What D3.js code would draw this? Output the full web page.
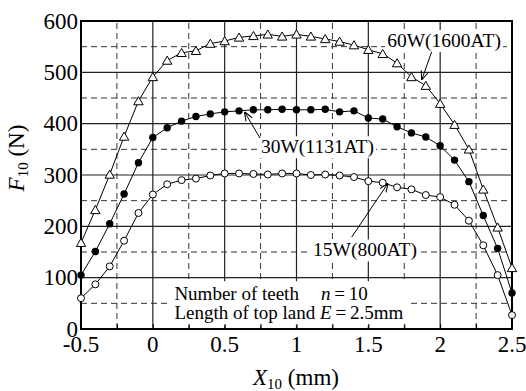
<!DOCTYPE html>
<html>
<head>
<meta charset="utf-8">
<script src="https://cdn.jsdelivr.net/npm/d3@7"></script>
<style>
  body { margin: 0; background: #fff; }
  svg { font-family: "Liberation Serif", "DejaVu Serif", serif; }
</style>
</head>
<body>
<svg id="chart"></svg>
<script>
// x positions of the measured points (mm)
const xValues = [-0.5, -0.4, -0.3, -0.2, -0.1, 0, 0.1, 0.2, 0.3, 0.4, 0.5, 0.6, 0.7, 0.8, 0.9, 1.0,
  1.1, 1.2, 1.3, 1.4, 1.5, 1.6, 1.7, 1.8, 1.9, 2.0, 2.1, 2.2, 2.3, 2.4, 2.5];

// F10 (N) for each coil
const f60W = [168, 232, 301, 375, 444, 491, 523, 538, 542, 556, 561, 568, 571, 574, 570, 574,
  570, 565, 560, 553, 544, 536, 518, 491, 474, 439, 398, 350, 272, 198, 119];
const f30W = [105, 151, 205, 263, 324, 373, 392, 405, 414, 419, 423, 425, 427, 427, 428, 427,
  427, 428, 423, 425, 411, 409, 394, 382, 374, 357, 329, 287, 221, 157, 70];
const f15W = [60, 87, 122, 172, 226, 262, 282, 290, 293, 299, 303, 303, 302, 301, 303, 303,
  300, 301, 299, 296, 288, 285, 276, 272, 261, 257, 242, 211, 163, 105, 27];

const xTicks = [-0.5, 0, 0.5, 1, 1.5, 2, 2.5];
const xTickLabels = ["-0.5", "0", "0.5", "1", "1.5", "2", "2.5"];
const yTicks = [0, 100, 200, 300, 400, 500, 600];

const seriesNames = ["60W(1600AT)", "30W(1131AT)", "15W(800AT)"];

const width = 526, height = 391;
const margin = {top: 21, right: 14, bottom: 62, left: 81};

const svg = d3.select("#chart")
    .attr("width", width)
    .attr("height", height);

const xScale = d3.scaleLinear()
    .domain([-0.5, 2.5])
    .range([margin.left, width - margin.right]);

const yScale = d3.scaleLinear()
    .domain([0, 600])
    .range([height - margin.bottom, margin.top]);

const grid = svg.append("g");

// dashed grid every 0.25 / 50, solid grid every 0.5 / 100
d3.range(-0.25, 2.5, 0.5).forEach(v => {
  grid.append("line")
      .attr("x1", xScale(v)).attr("x2", xScale(v))
      .attr("y1", yScale(0)).attr("y2", yScale(600))
      .attr("stroke", "#333").attr("stroke-width", 1)
      .attr("stroke-dasharray", "6,4");
});
d3.range(50, 600, 100).forEach(v => {
  grid.append("line")
      .attr("x1", xScale(-0.5)).attr("x2", xScale(2.5))
      .attr("y1", yScale(v)).attr("y2", yScale(v))
      .attr("stroke", "#333").attr("stroke-width", 1)
      .attr("stroke-dasharray", "6,4");
});
xTicks.slice(1, -1).forEach(v => {
  grid.append("line")
      .attr("x1", xScale(v)).attr("x2", xScale(v))
      .attr("y1", yScale(0)).attr("y2", yScale(600))
      .attr("stroke", "#222").attr("stroke-width", 1.2);
});
yTicks.slice(1, -1).forEach(v => {
  grid.append("line")
      .attr("x1", xScale(-0.5)).attr("x2", xScale(2.5))
      .attr("y1", yScale(v)).attr("y2", yScale(v))
      .attr("stroke", "#222").attr("stroke-width", 1.2);
});

// white box behind the condition note
svg.append("rect")
    .attr("x", xScale(0.12))
    .attr("y", yScale(93))
    .attr("width", xScale(1.79) - xScale(0.12))
    .attr("height", yScale(7) - yScale(93))
    .attr("fill", "#fff");

// minor ticks along the bottom
svg.append("g")
    .attr("transform", `translate(0,${yScale(0)})`)
    .call(d3.axisBottom(xScale).tickValues(d3.range(-0.5, 2.51, 0.25)).tickSize(-5).tickFormat(""))
    .call(g => g.select(".domain").remove())
    .selectAll("line").attr("stroke", "#000");

// labels with white background
function boxedLabel(text, x, v) {
  const g = svg.append("g");
  const t = g.append("text")
      .attr("x", xScale(x)).attr("y", yScale(v))
      .attr("text-anchor", "middle")
      .attr("dominant-baseline", "central")
      .attr("font-size", 19.5)
      .text(text);
  const b = t.node().getBBox();
  g.insert("rect", "text")
      .attr("x", b.x - 2).attr("y", b.y)
      .attr("width", b.width + 4).attr("height", b.height)
      .attr("fill", "#fff");
}
boxedLabel(seriesNames[0], 2.027, 562);
boxedLabel(seriesNames[1], 1.146, 355);
boxedLabel(seriesNames[2], 1.477, 154);

// arrows from labels to curves
svg.append("defs").append("marker")
    .attr("id", "arr")
    .attr("viewBox", "0 0 10 10")
    .attr("refX", 10).attr("refY", 5)
    .attr("markerWidth", 9).attr("markerHeight", 9)
    .attr("markerUnits", "userSpaceOnUse")
    .attr("orient", "auto")
  .append("path")
    .attr("d", "M0,1 L10,5 L0,9")
    .attr("fill", "none").attr("stroke", "#000").attr("stroke-width", 1.2);

const arrows = [
  {from: [1.941, 540], to: [1.871, 485]},
  {from: [0.746, 372], to: [0.638, 423]},
  {from: [1.384, 179], to: [1.637, 284]}
];
arrows.forEach(a => {
  svg.append("line")
      .attr("x1", xScale(a.from[0])).attr("y1", yScale(a.from[1]))
      .attr("x2", xScale(a.to[0])).attr("y2", yScale(a.to[1]))
      .attr("stroke", "#000").attr("stroke-width", 1)
      .attr("marker-end", "url(#arr)");
});

// condition note
const note1 = svg.append("text")
    .attr("y", yScale(70.5))
    .attr("dominant-baseline", "central")
    .attr("font-size", 19);
note1.append("tspan").attr("x", xScale(0.15)).text("Number of teeth");
note1.append("tspan").attr("x", xScale(1.17)).attr("font-style", "italic").text("n");
note1.append("tspan").text("\u2009=\u200910");

const note2 = svg.append("text")
    .attr("x", xScale(0.15))
    .attr("y", yScale(33))
    .attr("dominant-baseline", "central")
    .attr("font-size", 19);
note2.append("tspan").text("Length of top land ");
note2.append("tspan").attr("font-style", "italic").text("E");
note2.append("tspan").text("\u2009=\u20092.5mm");

// frame
svg.append("rect")
    .attr("x", xScale(-0.5)).attr("y", yScale(600))
    .attr("width", xScale(2.5) - xScale(-0.5))
    .attr("height", yScale(0) - yScale(600))
    .attr("fill", "none").attr("stroke", "#000").attr("stroke-width", 2);

// series lines and markers
const line = d3.line()
    .x((d, i) => xScale(xValues[i]))
    .y(d => yScale(d));

[f60W, f30W, f15W].forEach(s => {
  svg.append("path")
      .datum(s)
      .attr("d", line)
      .attr("fill", "none")
      .attr("stroke", "#000")
      .attr("stroke-width", 1);
});

const tri = d3.symbol().type(d3.symbolTriangle).size(38);
svg.append("g").selectAll("path")
    .data(f60W)
    .join("path")
    .attr("transform", (d, i) => `translate(${xScale(xValues[i])},${yScale(d) + 1})`)
    .attr("d", tri)
    .attr("fill", "#fff").attr("stroke", "#000").attr("stroke-width", 1);

svg.append("g").selectAll("circle")
    .data(f30W)
    .join("circle")
    .attr("cx", (d, i) => xScale(xValues[i]))
    .attr("cy", d => yScale(d))
    .attr("r", 3.7)
    .attr("fill", "#000");

svg.append("g").selectAll("circle")
    .data(f15W)
    .join("circle")
    .attr("cx", (d, i) => xScale(xValues[i]))
    .attr("cy", d => yScale(d))
    .attr("r", 3.5)
    .attr("fill", "#fff").attr("stroke", "#000").attr("stroke-width", 1);

// tick labels
svg.append("g").selectAll("text")
    .data(yTicks)
    .join("text")
    .attr("x", xScale(-0.5) - 3)
    .attr("y", d => yScale(d))
    .attr("text-anchor", "end")
    .attr("dominant-baseline", "central")
    .attr("font-size", 23)
    .text(d => d);

svg.append("g").selectAll("text")
    .data(xTicks)
    .join("text")
    .attr("x", d => xScale(d))
    .attr("y", yScale(0) + 15)
    .attr("text-anchor", "middle")
    .attr("dominant-baseline", "central")
    .attr("font-size", 23)
    .text((d, i) => xTickLabels[i]);

// axis titles
const xt = svg.append("text")
    .attr("x", 296).attr("y", 385)
    .attr("text-anchor", "middle")
    .attr("font-size", 23);
xt.append("tspan").attr("font-style", "italic").text("X");
xt.append("tspan").attr("font-size", 15).attr("dy", 4).text("10");
xt.append("tspan").attr("dy", -4).text(" (mm)");

const yt = svg.append("text")
    .attr("transform", "translate(24,158) rotate(-90)")
    .attr("text-anchor", "middle")
    .attr("font-size", 23);
yt.append("tspan").attr("font-style", "italic").text("F");
yt.append("tspan").attr("font-size", 15).attr("dy", 4).text("10");
yt.append("tspan").attr("dy", -4).text(" (N)");
</script>
</body>
</html>
